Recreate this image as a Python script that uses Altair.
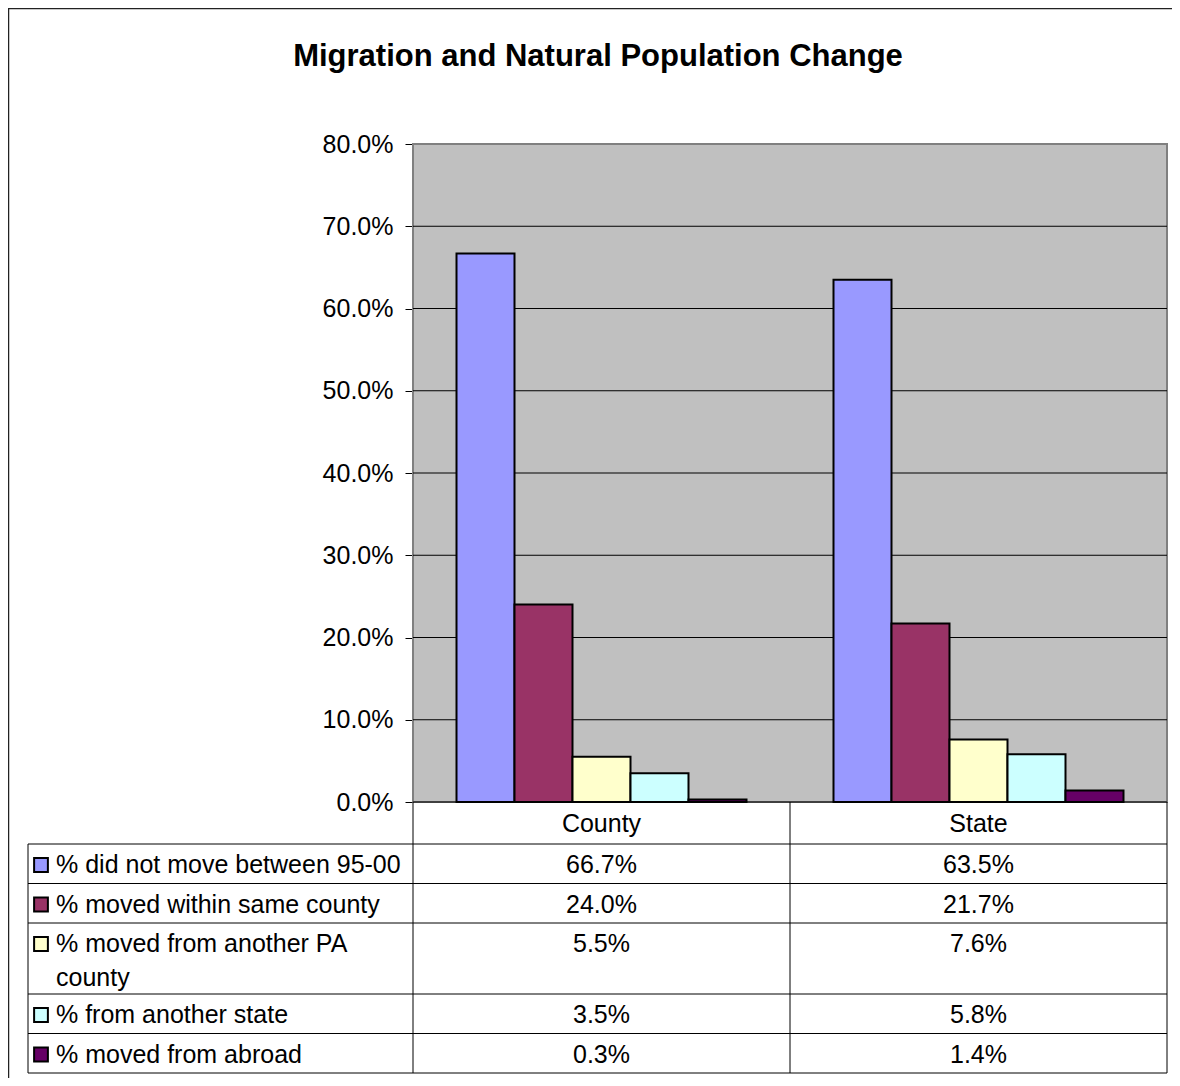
import altair as alt
import pandas as pd

# ---------------- data ----------------
TITLE = "Migration and Natural Population Change"
categories = ["County", "State"]
series = [
    "% did not move between 95-00",
    "% moved within same county",
    "% moved from another PA county",
    "% from another state",
    "% moved from abroad",
]
series_lines = [
    ["% did not move between 95-00"],
    ["% moved within same county"],
    ["% moved from another PA", "county"],
    ["% from another state"],
    ["% moved from abroad"],
]
county_values = [66.7, 24.0, 5.5, 3.5, 0.3]
state_values = [63.5, 21.7, 7.6, 5.8, 1.4]
y_tick_values = [0, 10, 20, 30, 40, 50, 60, 70, 80]
colors = ["#9999FF", "#993366", "#FFFFCC", "#CCFFFF", "#660066"]

# ---------------- layout (pixels inside the chart) ----------------
W, H = 1164, 1070
PX0, PX1, PY0, PY1 = 405, 1159, 136, 794
TX0 = 20
HEADER_H = 42
ROW_H = 39.5
LINE_H = 31.5
TEXT_LINE_H = 34
TEXT_DY = 21
FONT = "Liberation Sans"
FS = 25

values = {"County": county_values, "State": state_values}
bars = pd.DataFrame(
    [{"Category": c, "Series": s, "Value": v / 100}
     for c in categories for s, v in zip(series, values[c])]
)

row_tops = []
cur = PY1 + HEADER_H
for lines in series_lines:
    row_tops.append(cur)
    cur += ROW_H + LINE_H * (len(lines) - 1)
table_bottom = cur
top_of = dict(zip(series, row_tops))

cells = bars.copy()
cells["RowTop"] = cells["Series"].map(top_of)

label_rows = pd.DataFrame(
    [{"Series": s, "Line": t, "LineY": top + TEXT_DY + k * TEXT_LINE_H}
     for s, lines, top in zip(series, series_lines, row_tops)
     for k, t in enumerate(lines)]
)
swatches = pd.DataFrame({"Series": series, "SwY": [t + TEXT_DY for t in row_tops]})
hlines = pd.DataFrame({"Y": [PY1 + HEADER_H] + row_tops[1:] + [table_bottom]})
one = pd.DataFrame({"a": [0]})


def x_scale():
    return alt.Scale(domain=categories, range=[PX0, PX1], paddingInner=0, paddingOuter=0)


def y_scale():
    return alt.Scale(domain=[0, 0.8], range=[PY1, PY0], nice=False, zero=True)


def id_scale():
    return alt.Scale(domain=[0, H], range=[0, H], nice=False, zero=False)


border_top = alt.Chart(one).mark_rule(color="#222222", strokeWidth=1.5).encode(
    x=alt.value(0), x2=alt.value(W), y=alt.value(0.5)
)
border_left = alt.Chart(one).mark_rule(color="#222222", strokeWidth=1.5).encode(
    x=alt.value(0.5), y=alt.value(0), y2=alt.value(H)
)

title_layer = alt.Chart(pd.DataFrame({"t": [TITLE]})).mark_text(
    font=FONT, fontSize=31, fontWeight="bold", color="black", baseline="middle"
).encode(x=alt.value(590), y=alt.value(49), text="t:N")

bg = alt.Chart(one).mark_rect(fill="#C0C0C0", stroke="#808080", strokeWidth=2).encode(
    x=alt.value(PX0), x2=alt.value(PX1), y=alt.value(PY0), y2=alt.value(PY1)
)

grid = alt.Chart(pd.DataFrame({"tick": [t / 100 for t in y_tick_values if t < 80]})).mark_rule(
    color="black", strokeWidth=1
).encode(
    y=alt.Y("tick:Q", scale=y_scale(), axis=None),
    x=alt.value(PX0), x2=alt.value(PX1),
)

bars_layer = alt.Chart(bars).mark_bar(stroke="black", strokeWidth=2).encode(
    x=alt.X(
        "Category:N", scale=x_scale(), sort=categories,
        axis=alt.Axis(orient="bottom", offset=PY1 - H, domain=False, ticks=False, tickSize=0,
                      labelFont=FONT, labelFontSize=FS, labelPadding=9, labelColor="black",
                      labelAngle=0, title=None),
    ),
    xOffset=alt.XOffset("Series:N", scale=alt.Scale(domain=series, paddingInner=0, paddingOuter=0.75),
                        sort=series),
    y=alt.Y(
        "Value:Q", scale=y_scale(),
        axis=alt.Axis(orient="left", offset=-PX0, values=[t / 100 for t in y_tick_values],
                      format=".1%", grid=False, domain=False, tickSize=8, tickColor="black",
                      labelFont=FONT, labelFontSize=FS, labelPadding=12, labelColor="black",
                      title=None),
    ),
    fill=alt.Fill("Series:N", scale=alt.Scale(domain=series, range=colors), legend=None),
)

hline_layer = alt.Chart(hlines).mark_rule(color="black", strokeWidth=1).encode(
    y=alt.Y("Y:Q", scale=id_scale(), axis=None), x=alt.value(TX0), x2=alt.value(PX1)
)
vline_cols = alt.Chart(pd.DataFrame({"Category": categories})).mark_rule(color="black", strokeWidth=1).encode(
    x=alt.X("Category:N", scale=x_scale(), sort=categories, bandPosition=0, axis=None),
    y=alt.value(PY1), y2=alt.value(table_bottom),
)
vline_right = alt.Chart(one).mark_rule(color="black", strokeWidth=1).encode(
    x=alt.value(PX1), y=alt.value(PY1), y2=alt.value(table_bottom)
)
vline_left = alt.Chart(one).mark_rule(color="black", strokeWidth=1).encode(
    x=alt.value(TX0), y=alt.value(PY1 + HEADER_H), y2=alt.value(table_bottom)
)

cells_layer = alt.Chart(cells).mark_text(
    font=FONT, fontSize=FS, color="black", baseline="middle", dy=TEXT_DY
).encode(
    x=alt.X("Category:N", scale=x_scale(), sort=categories, axis=None),
    y=alt.Y("RowTop:Q", scale=id_scale(), axis=None),
    text=alt.Text("Value:Q", format=".1%"),
)

labels_layer = alt.Chart(label_rows).mark_text(
    font=FONT, fontSize=FS, color="black", baseline="middle", align="left"
).encode(
    x=alt.value(48),
    y=alt.Y("LineY:Q", scale=id_scale(), axis=None),
    text="Line:N",
)

swatch_layer = alt.Chart(swatches).mark_square(size=190, stroke="black", strokeWidth=2, opacity=1).encode(
    x=alt.value(33),
    y=alt.Y("SwY:Q", scale=id_scale(), axis=None),
    fill=alt.Fill("Series:N", scale=alt.Scale(domain=series, range=colors), legend=None),
)

chart = alt.layer(
    border_top, border_left, title_layer, bg, grid, bars_layer,
    hline_layer, vline_cols, vline_right, vline_left,
    cells_layer, labels_layer, swatch_layer,
).resolve_scale(
    x="independent", y="independent", fill="independent"
).properties(
    width=W, height=H, padding=0,
    autosize=alt.AutoSizeParams(type="none"),
).configure_view(strokeWidth=0)

chart.save("out.html", embed_options={"renderer": "svg", "actions": False})
